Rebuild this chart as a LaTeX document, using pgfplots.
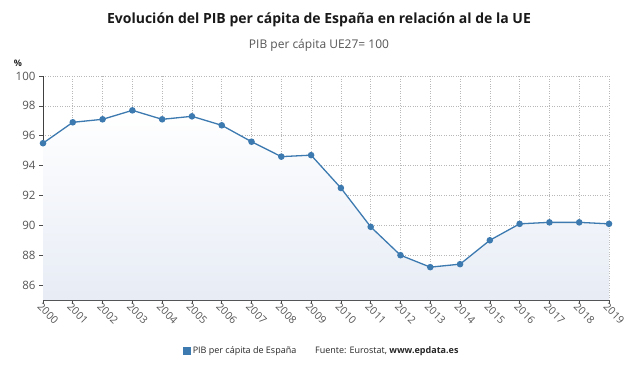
\documentclass[border=0pt]{standalone}
\usepackage{fontspec}
\setmainfont{Open Sans}
\usepackage{pgfplots}
\pgfplotsset{compat=1.18}
\definecolor{serie}{RGB}{61,122,176}
\definecolor{tickgray}{RGB}{85,85,85}
\definecolor{fillb}{RGB}{231,236,245}
\begin{document}
\begin{tikzpicture}[x=1pt,y=1pt]
\path[use as bounding box] (0,0) rectangle (638,-375);
\node[font=\bfseries\fontsize{14}{16}\selectfont, text=black!90] at (319,-20) {Evolución del PIB per cápita de España en relación al de la UE};
\node[font=\fontsize{12}{14}\selectfont, text=tickgray] at (319,-45) {PIB per cápita UE27= 100};
\node[font=\bfseries\fontsize{9}{10}\selectfont, text=black!85] at (18,-63) {\%};
\begin{axis}[
  at={(43pt,-300pt)}, anchor=south west,
  scale only axis, width=566pt, height=224pt,
  xmin=2000, xmax=2019, ymin=85, ymax=100,
  xtick={2000,...,2019}, ytick={86,88,...,100},
  /pgf/number format/assume math mode=true,
  /pgf/number format/set thousands separator={},
  axis lines*=left,
  axis line style={black!75, line width=0.9pt},
  tick align=outside, major tick length=4pt,
  tick style={black!70, line width=0.6pt},
  xtick pos=bottom, ytick pos=left,
  grid=major,
  major grid style={dotted, black!28, line width=0.6pt},
  ticklabel style={text=tickgray},
  yticklabel style={font=\fontsize{11.5}{13}\selectfont},
  xticklabel style={font=\fontsize{10.5}{12}\selectfont, rotate=-45, anchor=west, inner sep=1pt, xshift=-3pt, yshift=-3pt},
  legend style={at={(rel axis cs:0.247,-0.228)}, anchor=west, draw=none, fill=none,
    font=\fontsize{9}{11}\selectfont, text=black!85, inner sep=0pt},
  legend image code/.code={\fill[serie] (0pt,-3.2pt) rectangle (6.5pt,3.2pt);},
  legend cell align=left,
  clip=false,
]
\addplot[draw=none, top color=white, bottom color=fillb, forget plot] coordinates {
(2000,95.5) (2001,96.9) (2002,97.1) (2003,97.7) (2004,97.1) (2005,97.3) (2006,96.7) (2007,95.6) (2008,94.6) (2009,94.7)
(2010,92.5) (2011,89.9) (2012,88.0) (2013,87.2) (2014,87.4) (2015,89.0) (2016,90.1) (2017,90.2) (2018,90.2) (2019,90.1)
} \closedcycle;
\addplot[serie, line width=1.3pt, mark=*, mark size=2.6pt, mark options={fill=serie, draw=serie}] coordinates {
(2000,95.5) (2001,96.9) (2002,97.1) (2003,97.7) (2004,97.1) (2005,97.3) (2006,96.7) (2007,95.6) (2008,94.6) (2009,94.7)
(2010,92.5) (2011,89.9) (2012,88.0) (2013,87.2) (2014,87.4) (2015,89.0) (2016,90.1) (2017,90.2) (2018,90.2) (2019,90.1)
};
\addlegendentry{PIB per cápita de España}
\end{axis}
\node[anchor=west, font=\fontsize{9}{11}\selectfont, text=black!85, inner sep=0pt] at (315,-351) {Fuente: Eurostat, \textbf{www.epdata.es}};
\end{tikzpicture}
\end{document}
